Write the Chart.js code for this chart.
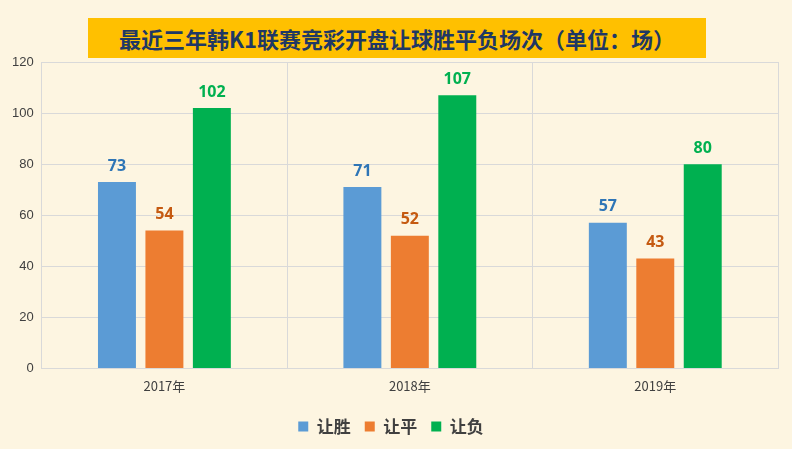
<!DOCTYPE html>
<html>
<head>
<meta charset="utf-8">
<script src="https://cdn.jsdelivr.net/npm/chart.js@4"></script>
<style>
  body { margin: 0; background: #FDF5E1; }
  #wrap { position: relative; width: 792px; height: 449px; background: #FDF5E1; }
  #title {
    position: absolute; left: 88px; top: 18px; width: 618px; height: 40px;
    background: #FFC000; color: #1F3864; font: bold 22px "Noto Sans CJK SC", sans-serif;
    text-align: center; line-height: 40px;
  }
</style>
</head>
<body>
<div id="wrap">
  <canvas id="chart" width="792" height="449"></canvas>
  <div id="title">最近三年韩K1联赛竞彩开盘让球胜平负场次（单位：场）</div>
</div>
<script>
// 数据
const categories = ['2017年', '2018年', '2019年'];
const seriesNames = ['让胜', '让平', '让负'];
const winValues = [73, 71, 57];
const drawValues = [54, 52, 43];
const loseValues = [102, 107, 80];

const barColors = ['#5B9BD5', '#ED7D31', '#00B050'];
const labelColors = ['#2E75B6', '#C55A11', '#00B050'];

// 柱顶数值标签
const valueLabels = {
    id: 'valueLabels',
    afterDatasetsDraw(chart) {
        const ctx = chart.ctx;
        ctx.save();
        ctx.font = 'bold 16px "Noto Sans", sans-serif';
        ctx.textAlign = 'center';
        ctx.textBaseline = 'bottom';
        chart.data.datasets.forEach((ds, i) => {
            ctx.fillStyle = labelColors[i];
            chart.getDatasetMeta(i).data.forEach((bar, j) => {
                ctx.fillText(ds.data[j], bar.x, bar.y - 8);
            });
        });
        ctx.restore();
    }
};

new Chart(document.getElementById('chart'), {
    type: 'bar',
    data: {
        labels: categories,
        datasets: [winValues, drawValues, loseValues].map((d, i) => ({
            label: seriesNames[i],
            data: d,
            backgroundColor: barColors[i],
            categoryPercentage: 0.58,
            barPercentage: 0.8
        }))
    },
    options: {
        responsive: false,
        animation: false,
        layout: { padding: { top: 62, right: 14, left: 4, bottom: 4 } },
        plugins: {
            legend: {
                position: 'bottom',
                labels: {
                    boxWidth: 10, boxHeight: 10, padding: 14,
                    color: '#404040',
                    font: { size: 17, weight: 'bold', family: '"Noto Sans CJK SC", sans-serif' }
                }
            },
            tooltip: { enabled: false }
        },
        scales: {
            x: {
                grid: { color: '#D9D9D9', drawTicks: false },
                border: { color: '#D9D9D9' },
                ticks: { color: '#404040', padding: 10, font: { size: 13, family: '"Noto Sans CJK SC", sans-serif' } }
            },
            y: {
                min: 0, max: 120,
                ticks: { stepSize: 20, color: '#404040', padding: 8, font: { size: 13 } },
                grid: { color: '#D9D9D9', drawTicks: false },
                border: { display: false }
            }
        }
    },
    plugins: [valueLabels]
});
</script>
</body>
</html>
